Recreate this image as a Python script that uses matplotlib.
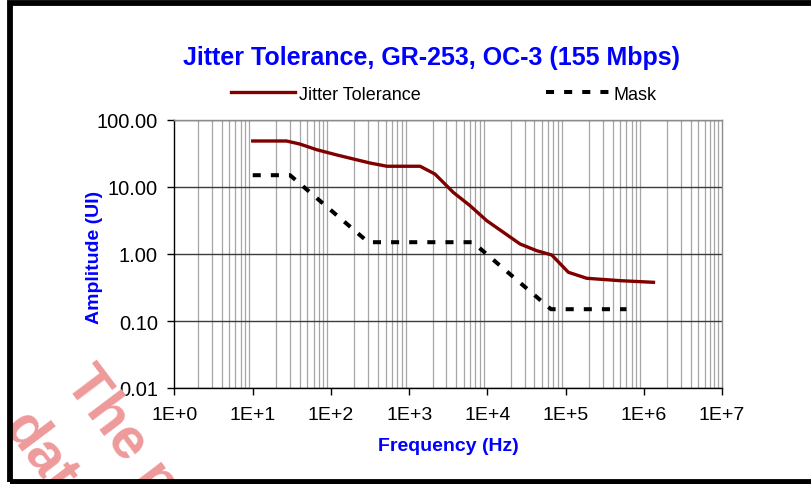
import matplotlib
matplotlib.use("Agg")
import matplotlib.pyplot as plt
import matplotlib.ticker as mticker
from matplotlib.patches import Rectangle
import numpy as np

plt.rcParams['font.family'] = ['Liberation Sans', 'DejaVu Sans']

# ---- data ----
tol_freq = [10, 27, 40, 66, 120, 316, 520, 1380, 2140, 3670, 6010, 9830,
            16000, 26200, 42800, 66600, 108700, 186600, 498000, 1330000]
tol_amp = [48.6, 48.6, 43.8, 36.0, 30.0, 22.8, 20.4, 20.4, 15.6, 8.3, 5.26, 3.14,
           2.11, 1.41, 1.12, 0.966, 0.533, 0.434, 0.40, 0.378]
mask_freq = [10, 30, 300, 6500, 65000, 600000]
mask_amp = [15, 15, 1.5, 1.5, 0.15, 0.15]

x_ticks = [1e0, 1e1, 1e2, 1e3, 1e4, 1e5, 1e6, 1e7]
x_labels = ["1E+0", "1E+1", "1E+2", "1E+3", "1E+4", "1E+5", "1E+6", "1E+7"]
y_ticks = [0.01, 0.1, 1, 10, 100]
y_labels = ["0.01", "0.10", "1.00", "10.00", "100.00"]

title = "Jitter Tolerance, GR-253, OC-3 (155 Mbps)"
xlabel = "Frequency (Hz)"
ylabel = "Amplitude (UI)"

W, H = 812, 485
fig = plt.figure(figsize=(W / 100, H / 100), dpi=100)
fig.patch.set_facecolor("white")

ax_l, ax_r, ax_t, ax_b = 174.5, 722, 121, 389
ax = fig.add_axes([ax_l / W, 1 - ax_b / H, (ax_r - ax_l) / W, (ax_b - ax_t) / H])
ax.set_xscale("log")
ax.set_yscale("log")
ax.set_xlim(1e0, 1e7)
ax.set_ylim(0.01, 100)

ax.set_xticks(x_ticks)
ax.set_xticklabels(x_labels)
ax.set_yticks(y_ticks)
ax.set_yticklabels(y_labels)
ax.xaxis.set_minor_locator(mticker.LogLocator(base=10, subs=np.arange(2, 10)))
ax.xaxis.set_minor_formatter(mticker.NullFormatter())
ax.yaxis.set_minor_locator(mticker.NullLocator())
ax.tick_params(axis="both", which="major", direction="out", length=5, width=1,
               colors="black")
ax.tick_params(axis="x", which="major", pad=8, labelsize=14)
ax.tick_params(axis="y", which="major", pad=7, labelsize=14.5)
ax.tick_params(axis="x", which="minor", length=0)

ax.grid(True, axis="x", which="minor", color="#a6a6a6", lw=0.9)
ax.grid(True, axis="y", which="major", color="#3c3c3c", lw=1.0)
ax.set_axisbelow(True)

for s in ["left", "bottom"]:
    ax.spines[s].set_color("black")
    ax.spines[s].set_linewidth(1.0)
for s in ["top", "right"]:
    ax.spines[s].set_color("#8c8c8c")
    ax.spines[s].set_linewidth(1.0)

l1, = ax.plot(tol_freq, tol_amp, color="#800000", lw=2.4, label="Jitter Tolerance",
              solid_joinstyle="round", zorder=3)
l2, = ax.plot(mask_freq, mask_amp, color="black", lw=2.9, label="Mask",
              linestyle=(0, (2.0, 2.5)), zorder=3)

xl = ax.set_xlabel(xlabel, color="#0000ff", fontsize=14, fontweight="bold")
yl = ax.set_ylabel(ylabel, color="#0000ff", fontsize=14, fontweight="bold")
ax.xaxis.set_label_coords(0.5, (ax_b - 447) / (ax_b - ax_t))
ax.yaxis.set_label_coords((95 - ax_l) / (ax_r - ax_l), (ax_b - 257) / (ax_b - ax_t))
xl.set_verticalalignment("center")
yl.set_verticalalignment("center")

fig.text(432 / W, 1 - 58 / H, title, color="#0000ff", fontsize=18,
         fontweight="bold", ha="center", va="center")

leg = fig.legend(handles=[l1, l2], loc="center", bbox_to_anchor=(444 / W, 1 - 95 / H),
                 ncol=2, frameon=False, fontsize=13, handlelength=3.55,
                 handletextpad=0.22, columnspacing=6.9, borderpad=0)
for t in leg.get_texts():
    t.set_color("black")

# watermark
wm_color = "#ee9a9a"
fig.text(64 / W, 1 - 383 / H, "The pr", color=wm_color, fontsize=41,
         fontweight="bold", rotation=-53, rotation_mode="anchor",
         ha="left", va="baseline", zorder=1)
fig.text(2 / W, 1 - 428 / H, "data", color=wm_color, fontsize=41,
         fontweight="bold", rotation=-53, rotation_mode="anchor",
         ha="left", va="baseline", zorder=1)

# figure border
bx0, by0, by1 = 9.7, 4.3, 483.0
fig.patches.append(Rectangle((bx0 / W, 1 - by1 / H), 2.0, (by1 - by0) / H,
                             transform=fig.transFigure, fill=False,
                             edgecolor="black", lw=4.2, zorder=10))

fig.savefig("out.png", dpi=100, facecolor="white")
